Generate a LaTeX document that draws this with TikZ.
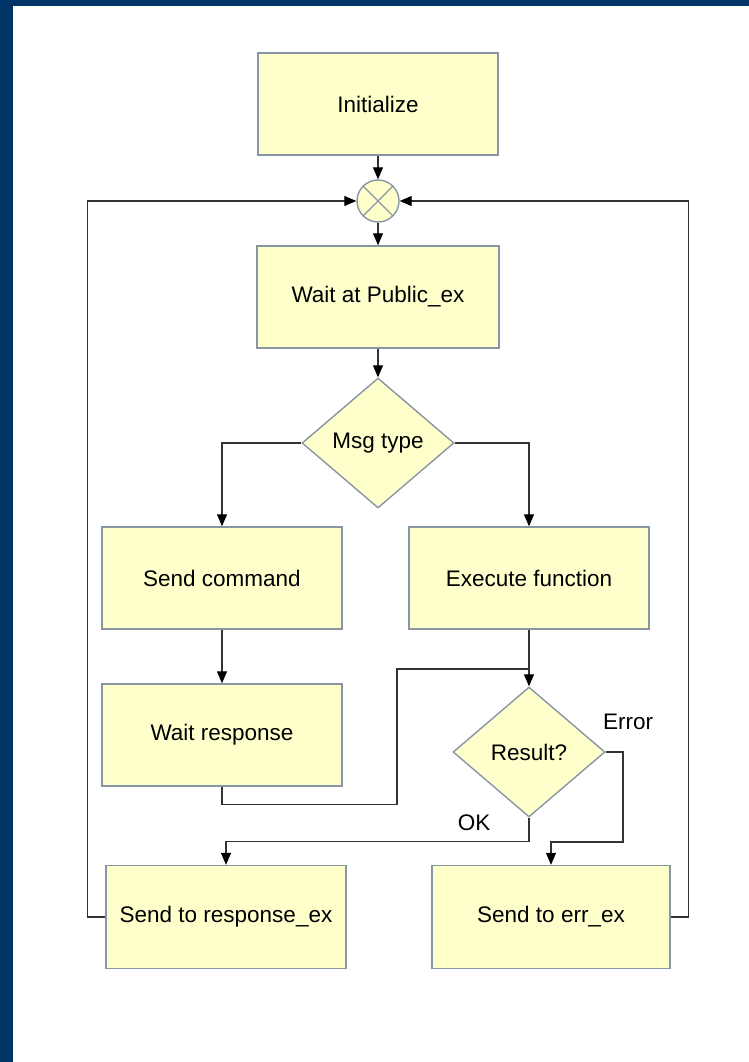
\documentclass[tikz,border=0pt]{standalone}
\usepackage{fontspec}
\setmainfont{Liberation Sans}
\usetikzlibrary{shapes.geometric,arrows.meta,calc}
\definecolor{frameblue}{RGB}{0,51,102}
\definecolor{boxfill}{RGB}{255,255,204}
\definecolor{boxedge}{RGB}{136,150,164}
\definecolor{wire}{RGB}{51,51,51}
\tikzset{
  every node/.style={font=\fontsize{22.5}{27}\selectfont},
  stepbox/.style={rectangle, draw=boxedge, fill=boxfill, line width=1.4pt,
    minimum width=240pt, minimum height=102pt, inner sep=0pt},
  decision/.style={diamond, draw=boxedge, fill=boxfill, line width=1.4pt,
    minimum width=152pt, minimum height=130pt, inner sep=0pt},
  wireline/.style={draw=wire, line width=1.2pt},
  arr/.style={wireline, -{Triangle[length=12pt,width=10pt,color=black]}},
  tag/.style={inner sep=0pt}
}
\begin{document}
\begin{tikzpicture}[x=1pt,y=-1pt]
  % page frame
  \useasboundingbox (0,0) rectangle (749,1062);
  \fill[frameblue] (0,0) rectangle (749,1062);
  \fill[white] (13,6) rectangle (749,1062);

  % process steps
  \node[stepbox] (init) at (378,104) {Initialize};
  \node[circle, draw=boxedge, fill=boxfill, line width=1.4pt,
        minimum size=42pt, inner sep=0pt] (join) at (378,201) {};
  \draw[boxedge, line width=1.2pt] (join.north west) -- (join.south east)
                                   (join.north east) -- (join.south west);
  \node[stepbox, minimum width=242pt] (wait) at (378,297) {Wait at Public\_ex};
  \node[decision] (msg) at (378,443) {Msg type};
  \node[stepbox] (cmd) at (222,578) {Send command};
  \node[stepbox] (exec) at (529,578) {Execute function};
  \node[stepbox] (resp) at (222,735) {Wait response};
  \node[decision] (result) at (529,752) {Result?};
  \node[stepbox, minimum height=103pt] (sresp) at (226,917) {Send to response\_ex};
  \node[stepbox, minimum width=238pt, minimum height=103pt] (serr) at (551,917) {Send to err\_ex};

  % branch labels
  \node[tag] (oklbl) at (474,823) {OK};
  \node[tag] (errlbl) at (628,722) {Error};

  % helper points
  \coordinate (bend) at (397,669);
  \coordinate (errdrop) at (623,842);

  % connectors
  \draw[arr] (init.south) -- (join.north);
  \draw[arr] (join.south) -- (wait.north);
  \draw[arr] (wait.south) -- (msg.north);
  \draw[arr] (msg.west) -| (cmd.north);
  \draw[arr] (msg.east) -| (exec.north);
  \draw[arr] (cmd.south) -- (resp.north);
  \draw[arr] (exec.south) -- (result.north);
  \draw[wireline] (resp.south) -- ++(0,18) -| (bend) -- (bend -| result.north);
  \draw[arr] (result.south) -- ++(0,24) -| (sresp.north);
  \draw[arr] (result.east) -| (errdrop) -| (serr.north);
  \draw[arr] (sresp.west) -- ++(-18,0) |- (join.west);
  \draw[arr] (serr.east) -- ++(18,0) |- (join.east);
\end{tikzpicture}
\end{document}
